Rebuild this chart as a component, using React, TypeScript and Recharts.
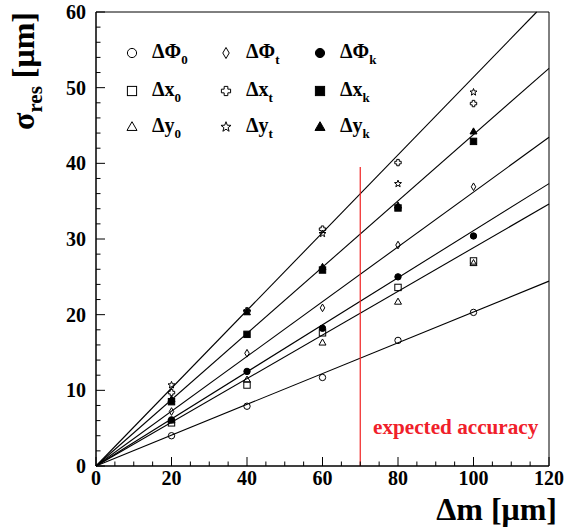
import React from 'react';
import { ScatterChart, Scatter, XAxis, YAxis, ReferenceLine, ReferenceArea, Legend } from 'recharts';

// Δm positions of the measurements
const dmValues = [20, 40, 60, 80, 100];

// residual sigma for each series
const phi0 = [4.0, 7.9, 11.7, 16.6, 20.3];
const phiT = [7.2, 14.9, 20.9, 29.2, 36.9];
const phiK = [6.1, 12.5, 18.2, 25.0, 30.4];
const x0 = [5.7, 10.7, 17.6, 23.6, 27.1];
const xT = [9.7, 20.5, 31.3, 40.1, 47.9];
const xK = [8.5, 17.4, 25.9, 34.1, 42.9];
const y0 = [6.0, 11.4, 16.3, 21.7, 26.8];
const yT = [10.7, 20.4, 30.7, 37.3, 49.4];
const yK = [8.8, 20.3, 26.3, 34.4, 44.2];

// slopes of the straight fits through the origin
const fitSlopes = [0.514, 0.438, 0.362, 0.311, 0.2885, 0.2036];

const xLabels = [0, 20, 40, 60, 80, 100, 120];
const yLabels = [0, 10, 20, 30, 40, 50, 60];
const xMax = 120;
const yMax = 60;
const accuracyLimit = 70;
const accuracyTop = 39.5;

const xTicks = Array.from({ length: 25 }, (_, i) => i * 5);
const yTicks = Array.from({ length: 31 }, (_, i) => i * 2);

const serif = { fontFamily: 'Liberation Serif, DejaVu Serif, serif', fontWeight: 'bold' as const };

type Kind = 'circle' | 'diamond' | 'dot' | 'square' | 'cross' | 'box' | 'triangle' | 'star' | 'tri';

const series: { key: string; main: string; sub: string; values: number[]; kind: Kind }[] = [
  { key: 'phi0', main: 'ΔΦ', sub: '0', values: phi0, kind: 'circle' },
  { key: 'phiT', main: 'ΔΦ', sub: 't', values: phiT, kind: 'diamond' },
  { key: 'phiK', main: 'ΔΦ', sub: 'k', values: phiK, kind: 'dot' },
  { key: 'x0', main: 'Δx', sub: '0', values: x0, kind: 'square' },
  { key: 'xT', main: 'Δx', sub: 't', values: xT, kind: 'cross' },
  { key: 'xK', main: 'Δx', sub: 'k', values: xK, kind: 'box' },
  { key: 'y0', main: 'Δy', sub: '0', values: y0, kind: 'triangle' },
  { key: 'yT', main: 'Δy', sub: 't', values: yT, kind: 'star' },
  { key: 'yK', main: 'Δy', sub: 'k', values: yK, kind: 'tri' },
];

const Marker = ({ kind, cx, cy, s }: { kind: Kind; cx: number; cy: number; s: number }) => {
  const open = { fill: 'none', stroke: '#000', strokeWidth: 1 };
  const solid = { fill: '#000', stroke: '#000', strokeWidth: 1 };
  switch (kind) {
    case 'circle':
      return <circle cx={cx} cy={cy} r={s} {...open} />;
    case 'dot':
      return <circle cx={cx} cy={cy} r={s} {...solid} />;
    case 'square':
      return <rect x={cx - s} y={cy - s} width={2 * s} height={2 * s} {...open} />;
    case 'box':
      return <rect x={cx - s} y={cy - s} width={2 * s} height={2 * s} {...solid} />;
    case 'diamond': {
      const h = s * 1.2, w = s * 0.7;
      return <polygon points={`${cx},${cy - h} ${cx + w},${cy} ${cx},${cy + h} ${cx - w},${cy}`} {...open} />;
    }
    case 'triangle':
    case 'tri': {
      const r = s * 1.15;
      const pts = `${cx},${cy - r} ${cx + r * 0.95},${cy + r * 0.65} ${cx - r * 0.95},${cy + r * 0.65}`;
      return <polygon points={pts} {...(kind === 'tri' ? solid : open)} />;
    }
    case 'cross': {
      const a = s, b = s * 0.4;
      const pts = [
        [-b, -a], [b, -a], [b, -b], [a, -b], [a, b], [b, b], [b, a], [-b, a], [-b, b], [-a, b], [-a, -b], [-b, -b],
      ].map(([dx, dy]) => `${cx + dx},${cy + dy}`).join(' ');
      return <polygon points={pts} {...open} />;
    }
    case 'star': {
      const pts: string[] = [];
      for (let i = 0; i < 10; i++) {
        const r = i % 2 === 0 ? s * 1.15 : s * 0.48;
        const ang = -Math.PI / 2 + (i * Math.PI) / 5;
        pts.push(`${cx + r * Math.cos(ang)},${cy + r * Math.sin(ang)}`);
      }
      return <polygon points={pts.join(' ')} {...open} />;
    }
  }
  return null;
};

const XTick = (props: any) => {
  const { x, y, payload } = props;
  const major = xLabels.includes(payload.value);
  return (
    <g>
      <line x1={x} x2={x} y1={y} y2={y - (major ? 9 : 4.5)} stroke="#000" />
      {major && (
        <text x={x} y={y + 19} textAnchor="middle" style={{ ...serif, fontSize: 20 }} fill="#000">
          {payload.value}
        </text>
      )}
    </g>
  );
};

const YTick = (props: any) => {
  const { x, y, payload } = props;
  const major = yLabels.includes(payload.value);
  return (
    <g>
      <line x1={x} x2={x + (major ? 9 : 4.5)} y1={y} y2={y} stroke="#000" />
      {major && (
        <text x={x - 10} y={y + 7} textAnchor="end" style={{ ...serif, fontSize: 20 }} fill="#000">
          {payload.value}
        </text>
      )}
    </g>
  );
};

const legendCols = [132, 226, 320];
const legendRows = [53, 91, 127];

const LegendContent = () => (
  <svg width={580} height={150} style={{ display: 'block' }}>
    {series.map((s, i) => {
      const cx = legendCols[i % 3];
      const cy = legendRows[Math.floor(i / 3)];
      return (
        <g key={s.key}>
          <Marker kind={s.kind} cx={cx} cy={cy} s={4.6} />
          <text x={cx + 20} y={cy + 5} style={{ ...serif, fontSize: 20 }} fill="#000">
            {s.main}
            <tspan style={{ fontSize: 13 }} dy={6}>{s.sub}</tspan>
          </text>
        </g>
      );
    })}
  </svg>
);

const fitSegment = (slope: number) => {
  const xEnd = Math.min(xMax, yMax / slope);
  return [{ x: 0, y: 0 }, { x: xEnd, y: xEnd * slope }];
};

export default function App() {
  return (
    <div style={{ position: 'absolute', left: 0, top: 0 }}>
      <ScatterChart width={580} height={528} margin={{ top: 12, right: 31, bottom: 32, left: 0 }}>
        <XAxis
          type="number"
          dataKey="x"
          domain={[0, xMax]}
          ticks={xTicks}
          interval={0}
          tick={<XTick />}
          tickLine={false}
          tickSize={0}
          tickMargin={0}
          axisLine={{ stroke: '#000' }}
          height={30}
          allowDataOverflow
          label={{
            content: () => (
              <text x={557} y={520} textAnchor="end" style={{ ...serif, fontSize: 32 }} fill="#000">
                Δm [μm]
              </text>
            ),
          }}
        />
        <YAxis
          type="number"
          dataKey="y"
          domain={[0, yMax]}
          ticks={yTicks}
          interval={0}
          tick={<YTick />}
          tickLine={false}
          tickSize={0}
          tickMargin={0}
          axisLine={{ stroke: '#000' }}
          width={96}
          allowDataOverflow
          label={{
            content: () => (
              <text transform="translate(34,130) rotate(-90)" style={{ ...serif, fontSize: 32 }} fill="#000">
                σ<tspan style={{ fontSize: 21 }} dy={8}>res</tspan>
                <tspan dy={-8}> [μm]</tspan>
              </text>
            ),
          }}
        />
        <ReferenceArea x1={0} x2={xMax} y1={0} y2={yMax} fill="none" stroke="#000" strokeWidth={1} />
        {fitSlopes.map((slope, i) => (
          <ReferenceLine key={`fit-${i}`} segment={fitSegment(slope)} stroke="#000" strokeWidth={1.1} />
        ))}
        <ReferenceLine
          segment={[{ x: accuracyLimit, y: 0 }, { x: accuracyLimit, y: accuracyTop }]}
          stroke="#f02020"
          strokeWidth={1.2}
        />
        {series.map((s) => (
          <Scatter
            key={s.key}
            name={s.key}
            data={dmValues.map((dm, i) => ({ x: dm, y: s.values[i] }))}
            isAnimationActive={false}
            shape={(p: any) => <Marker kind={s.kind} cx={p.cx} cy={p.cy} s={3.2} />}
          />
        ))}
        <Legend
          layout="horizontal"
          verticalAlign="middle"
          align="center"
          wrapperStyle={{ left: 0, top: 0, width: 580, height: 150 }}
          content={<LegendContent />}
        />
        <ReferenceLine
          y={0}
          stroke="none"
          label={{
            content: () => (
              <text x={373} y={434} style={{ ...serif, fontSize: 21.2 }} fill="#f0202a">
                expected accuracy
              </text>
            ),
          }}
        />
      </ScatterChart>
    </div>
  );
}
